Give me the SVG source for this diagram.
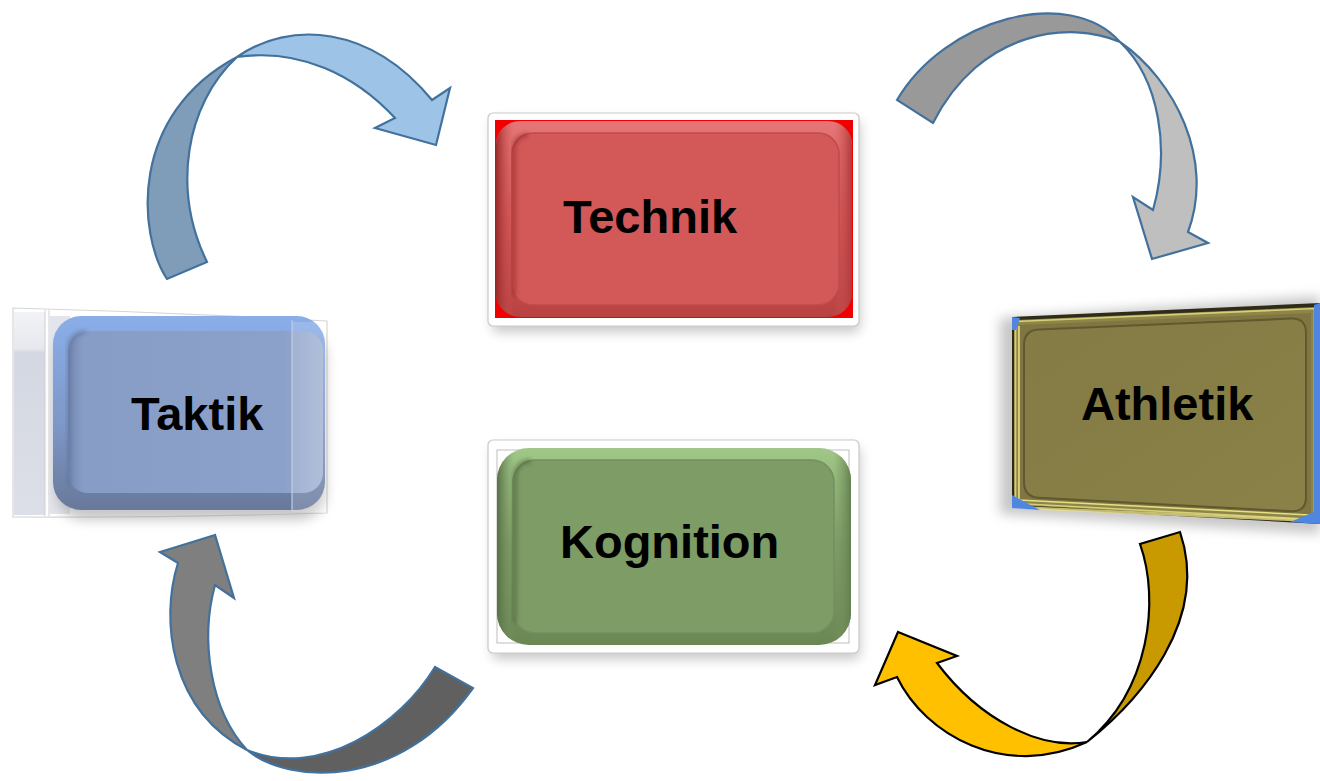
<svg xmlns="http://www.w3.org/2000/svg" width="1320" height="781" viewBox="0 0 1320 781">
  <defs>
    <filter id="soft" x="-20%" y="-20%" width="140%" height="140%">
      <feGaussianBlur stdDeviation="6"/>
    </filter>
    <filter id="softer" x="-20%" y="-20%" width="140%" height="140%">
      <feGaussianBlur stdDeviation="2"/>
    </filter>
    <!-- bevel ring shading -->
    <linearGradient id="redRing" x1="0" y1="0" x2="0" y2="1">
      <stop offset="0" stop-color="#E67676"/>
      <stop offset="0.5" stop-color="#D25656"/>
      <stop offset="1" stop-color="#B84242"/>
    </linearGradient>
    <linearGradient id="redSide" x1="0" y1="0" x2="1" y2="0">
      <stop offset="0" stop-color="#9A2A2A"/>
      <stop offset="0.05" stop-color="#D35959" stop-opacity="0"/>
      <stop offset="0.95" stop-color="#D35959" stop-opacity="0"/>
      <stop offset="1" stop-color="#B03A3A"/>
    </linearGradient>
    <linearGradient id="greenRing" x1="0" y1="0" x2="0" y2="1">
      <stop offset="0" stop-color="#A0C788"/>
      <stop offset="0.5" stop-color="#7E9C66"/>
      <stop offset="1" stop-color="#6A8754"/>
    </linearGradient>
    <linearGradient id="greenSide" x1="0" y1="0" x2="1" y2="0">
      <stop offset="0" stop-color="#566F43"/>
      <stop offset="0.05" stop-color="#7E9C66" stop-opacity="0"/>
      <stop offset="0.95" stop-color="#7E9C66" stop-opacity="0"/>
      <stop offset="1" stop-color="#647F50"/>
    </linearGradient>
    <linearGradient id="blueRing" x1="0" y1="0" x2="0" y2="1">
      <stop offset="0" stop-color="#8AAEE8"/>
      <stop offset="0.55" stop-color="#7E98C8"/>
      <stop offset="1" stop-color="#68799A"/>
    </linearGradient>
    <linearGradient id="blueFace" x1="0" y1="0" x2="1" y2="0">
      <stop offset="0" stop-color="#7288B2"/>
      <stop offset="0.06" stop-color="#889DC6"/>
      <stop offset="0.85" stop-color="#8CA1C9"/>
      <stop offset="1" stop-color="#A4B4D4"/>
    </linearGradient>
    <linearGradient id="ghostStrip" x1="0" y1="0" x2="0" y2="1">
      <stop offset="0" stop-color="#F2F3F6"/>
      <stop offset="0.18" stop-color="#E6E8EE"/>
      <stop offset="0.2" stop-color="#D4D8E2"/>
      <stop offset="1" stop-color="#DCDFE7"/>
    </linearGradient>
    <linearGradient id="oliveFace" x1="0" y1="0" x2="1" y2="1">
      <stop offset="0" stop-color="#847B45"/>
      <stop offset="1" stop-color="#8A8148"/>
    </linearGradient>
    <style>
      .label { font-family: "Liberation Sans", Arial, sans-serif; font-weight: bold; font-size: 47px; fill: #000000; }
      .frame { fill: #FFFFFF; stroke: #C9C9C9; stroke-width: 1.2; }
      .shadow { fill: #9A9A9A; opacity: 0.55; }
      .arrowBlue { stroke: #41719C; stroke-width: 2.2; stroke-linejoin: miter; }
      .arrowBlack { stroke: #000000; stroke-width: 2.2; stroke-linejoin: miter; }
    </style>
  </defs>

  <rect width="1320" height="781" fill="#FFFFFF"/>

  <!-- curved arrows between the four fields -->
  <g id="connectors">
    <!-- Taktik to Technik -->
    <g id="arrow-taktik-technik">
      <path class="arrowBlue" fill="#7F9DB9" d="M167,279 C138,235 128,115 237,57 C185,105 172,190 207,262 Z"/>
      <path class="arrowBlue" fill="#9DC3E6" d="M237,57 C290,20 370,25 432,100 L450,88 L436,145 L375,128 L395,118 C355,75 300,48 237,57 Z"/>
    </g>
    <!-- Technik to Athletik -->
    <g id="arrow-technik-athletik">
      <path class="arrowBlue" fill="#999999" d="M897,100 C945,18 1070,-15 1120,42 C1070,20 980,30 933,123 Z"/>
      <path class="arrowBlue" fill="#BFBFBF" d="M1120,42 C1175,80 1215,160 1188,232 L1208,243 L1152,259 L1133,197 L1153,210 C1170,150 1160,80 1120,42 Z"/>
    </g>
    <!-- Athletik to Kognition -->
    <g id="arrow-athletik-kognition">
      <path class="arrowBlack" fill="#C99A00" d="M1087,742 C1140,700 1210,620 1180,532 L1140,544 C1160,600 1150,690 1087,742 Z"/>
      <path class="arrowBlack" fill="#FFC000" d="M898,632 L957,656 L937,663 C980,720 1040,750 1087,742 C1005,780 925,735 897,677 L875,685 Z"/>
    </g>
    <!-- Kognition to Taktik -->
    <g id="arrow-kognition-taktik">
      <path class="arrowBlue" fill="#606060" d="M247,750 C290,785 400,790 473,688 L435,667 C400,725 320,780 247,750 Z"/>
      <path class="arrowBlue" fill="#7F7F7F" d="M215,535 L160,552 L178,563 C160,620 170,710 247,750 C210,710 200,640 215,585 L234,598 Z"/>
    </g>
  </g>

  <!-- Technik -->
  <g id="node-technik">
    <rect class="shadow" x="492" y="120" width="368" height="212" rx="6" filter="url(#soft)"/>
    <rect class="frame" x="488" y="113" width="371" height="213" rx="5"/>
    <rect x="495" y="120" width="358" height="198" fill="#F00000"/>
    <rect x="496" y="121" width="356" height="196" rx="24" fill="url(#redRing)"/>
    <rect x="496" y="121" width="356" height="196" rx="24" fill="url(#redSide)"/>
    <rect x="512" y="133" width="327" height="172" rx="21" fill="#D35959" stroke="#C24A4A" stroke-width="1.5"/>
    <path d="M514,295 L514,150 Q514,136 528,135" fill="none" stroke="#8A2424" stroke-width="4" opacity="0.55" filter="url(#softer)"/>
    <text class="label" x="563" y="233">Technik</text>
  </g>

  <!-- Taktik -->
  <g id="node-taktik">
    <path d="M13,308 Q170,312 327,321 L327,513 Q170,518 13,517 Z" fill="#FFFFFF" stroke="#D6D6D6" stroke-width="1.2"/>
    <rect x="14" y="312" width="31" height="203" fill="url(#ghostStrip)"/>
    <line x1="45" y1="310" x2="45" y2="516" stroke="#D0D0D0" stroke-width="1"/>
    <line x1="49" y1="310" x2="49" y2="516" stroke="#D0D0D0" stroke-width="1"/>
    <rect x="50" y="316" width="20" height="198" fill="#DCDFE7" opacity="0.8"/>
    <rect class="shadow" x="56" y="330" width="270" height="190" rx="28" filter="url(#soft)" opacity="0.35"/>
    <rect x="53" y="316" width="272" height="194" rx="28" fill="url(#blueRing)"/>
    <rect x="68" y="331" width="255" height="162" rx="20" fill="url(#blueFace)"/>
    <path d="M69,485 L69,350 Q69,333 86,332" fill="none" stroke="#5E7298" stroke-width="4" opacity="0.6" filter="url(#softer)"/>
    <line x1="292" y1="320" x2="292" y2="512" stroke="#B9C8E8" stroke-width="1.2"/>
    <rect x="292" y="322" width="34" height="190" fill="#FFFFFF" opacity="0.15"/>
    <text class="label" x="131" y="430">Taktik</text>
  </g>

  <!-- Athletik -->
  <g id="node-athletik">
    <path class="shadow" d="M1000,318 L1320,296 L1320,534 L1000,514 Z" filter="url(#soft)" opacity="0.7"/>
    <path d="M1012,317 L1320,303 L1320,524 L1012,507 Z" fill="#2E2C18"/>
    <path d="M1014,320 L1316,307 L1316,521 L1014,505 Z" fill="#8E8548"/>
    <path d="M1015.5,321.5 L1314.5,308.5 L1314.5,519.5 L1015.5,503.5 Z" fill="none" stroke="#D6CF78" stroke-width="1.6"/>
    <path d="M1019,325 L1311,313 L1311,515 L1019,500 Z" fill="#7F7642"/>
    <path d="M1039,329.4 L1291,318.6 Q1306,318 1306,333 L1306,497 Q1306,512 1291,511.2 L1039,497.8 Q1024,497 1024,482 L1024,345 Q1024,330 1039,329.4 Z" fill="url(#oliveFace)" stroke="#5F5830" stroke-width="2"/>
    <path d="M1019,326 L1019,500 L1310,515" fill="none" stroke="#E6DE82" stroke-width="1.6"/>
    <path d="M1030,508 L1300,520" fill="none" stroke="#E8E08A" stroke-width="3" opacity="0.8"/>
    <path d="M1012,317 L1020,318 L1016,330 L1012,330 Z" fill="#4F86E0"/>
    <path d="M1012,495 L1012,508 L1040,510 Z" fill="#4F86E0"/>
    <path d="M1314,305 L1320,303 L1320,524 L1290,522 L1314,512 Z" fill="#4F86E0"/>
    <text class="label" x="1081" y="420">Athletik</text>
  </g>

  <!-- Kognition -->
  <g id="node-kognition">
    <rect class="shadow" x="492" y="447" width="368" height="212" rx="6" filter="url(#soft)"/>
    <rect class="frame" x="488" y="440" width="371" height="213" rx="5"/>
    <rect x="497" y="450" width="352" height="193" fill="#FFFFFF" stroke="#BDBDBD" stroke-width="1"/>
    <rect x="497" y="448" width="354" height="197" rx="32" fill="url(#greenRing)"/>
    <rect x="497" y="448" width="354" height="197" rx="32" fill="url(#greenSide)"/>
    <rect x="513" y="460" width="321" height="173" rx="22" fill="#7E9C66" stroke="#729060" stroke-width="1.5"/>
    <path d="M515,622 L515,478 Q515,462 531,461" fill="none" stroke="#3F5530" stroke-width="4" opacity="0.55" filter="url(#softer)"/>
    <text class="label" x="560" y="558">Kognition</text>
  </g>
</svg>
